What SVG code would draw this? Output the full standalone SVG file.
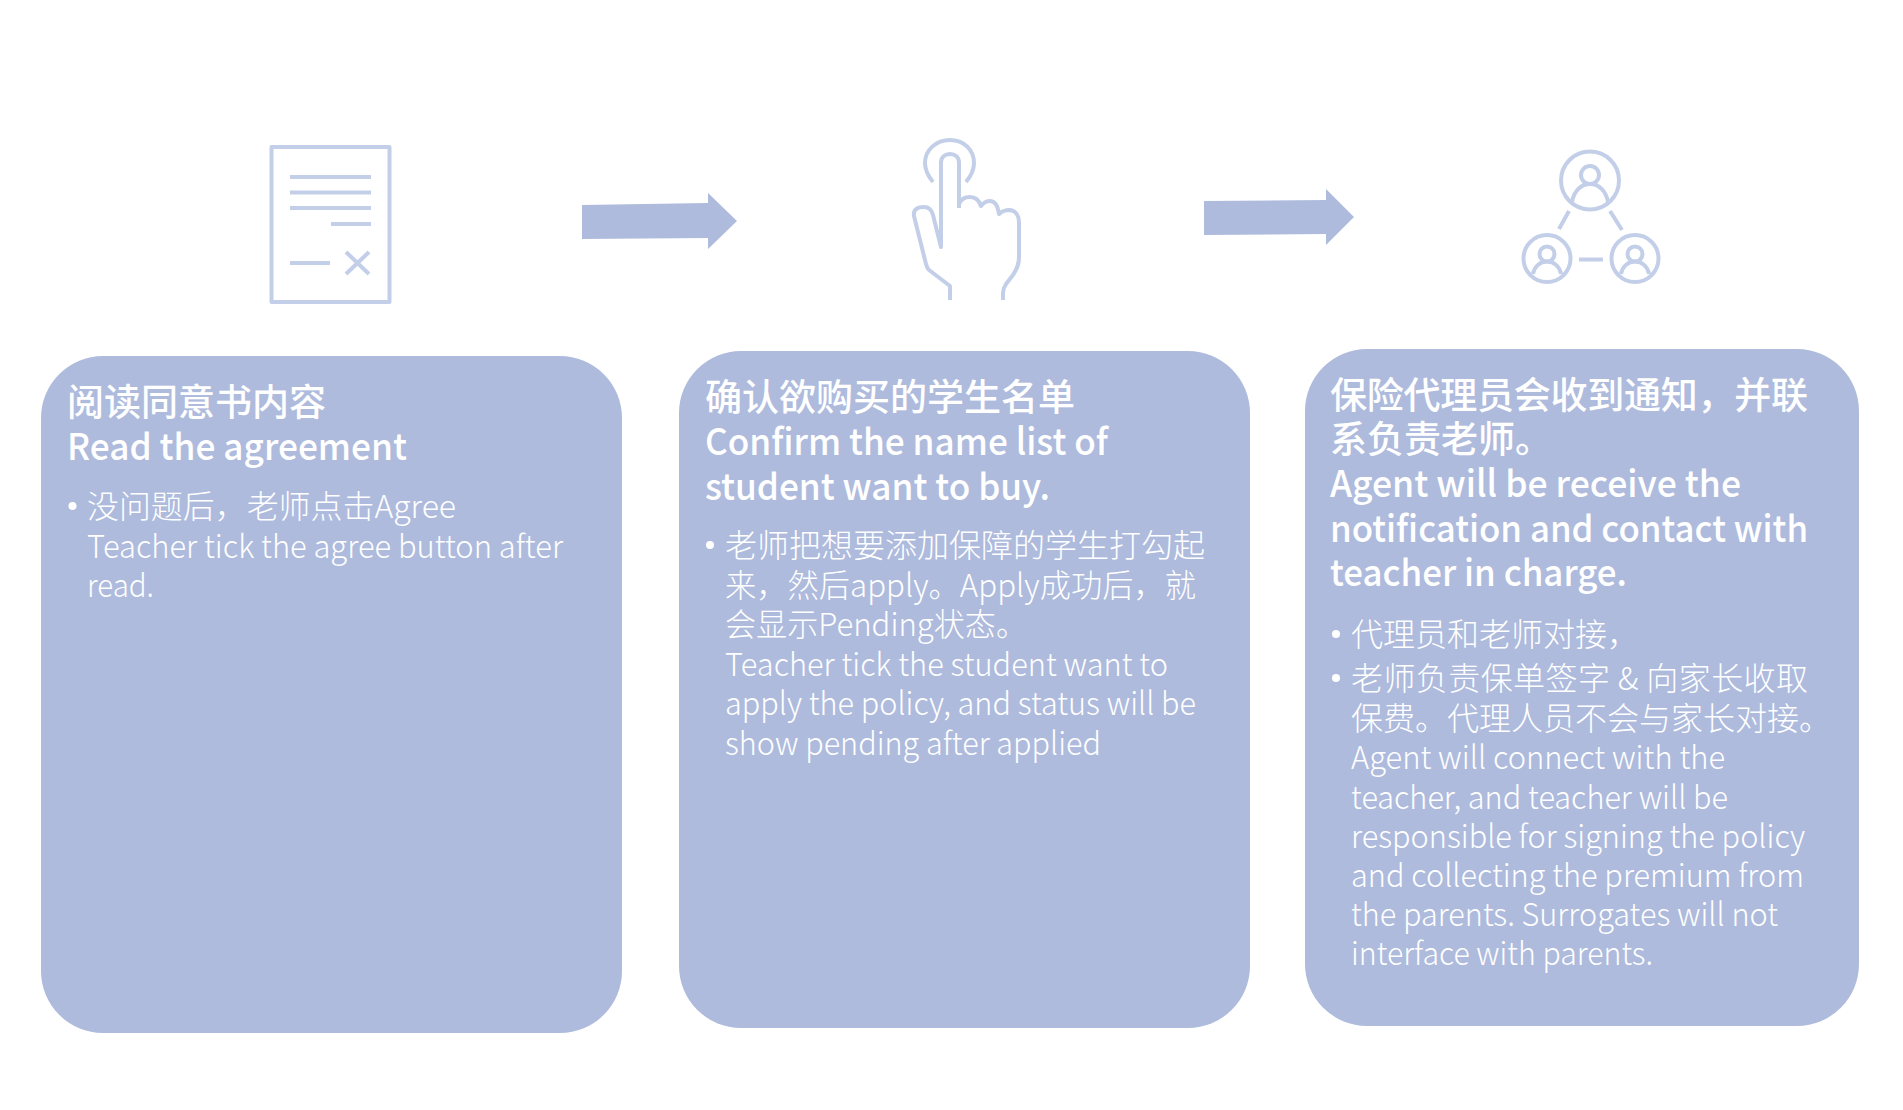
<svg xmlns="http://www.w3.org/2000/svg" width="1903" height="1110" viewBox="0 0 1903 1110">
<style>
.card{fill:#aebbdd}
.arrow{fill:#aebbdd}
.ic{fill:none;stroke:#c3cfe8;stroke-width:4;stroke-linecap:butt;stroke-linejoin:round}
.dot{fill:#fff}
text{fill:#fff;font-family:"Noto Sans CJK SC","Noto Sans",sans-serif}
.t{font-size:37px;font-weight:500}
.b{font-size:32px;font-weight:300}
</style>
<rect width="1903" height="1110" fill="#fff"/>
<g id="connectors">
<path class="arrow" d="M582 205L708 203V193L737 221L708 249V238L582 239Z"/>
<path class="arrow" d="M1204 201L1326 200V189L1354 217L1326 245V234L1204 235Z"/>
</g>
<g id="icon-document" class="ic">
<rect x="271.500" y="147" width="118" height="155"/>
<path d="M290 177H371M290 192.500H371M290 208H371M331 224H371M290 263H330M346 252L369 274M369 252L346 274"/>
</g>
<g id="icon-hand" class="ic">
<path d="M933 182C928 176 925 171 925 163C925 150 936 140 950 140C964 140 974 150 974 163C974 171 971 176 966 182"/>
<path d="M950 300V286L929 270Q927 268 926 264L914 216C913 209 918 207 924 207C930 207 932 211 933 215L941 247V163C941 157 945 154 950 154C955 154 959 157 959 163V208"/>
<path d="M959 204C961 199 965 197 970 197C975 197 979 200 981 206C984 202 987 201 990 201C995 201 998 207 999 214C1002 211 1006 210 1010 210C1016 211 1019 216 1019 222V257C1019 266 1016 270 1013 275L1006 284C1004 287 1003 290 1003 293V300"/>
</g>
<g id="icon-people" class="ic">
<circle cx="1590" cy="180.500" r="29"/>
<circle cx="1590" cy="175" r="9"/>
<path d="M1572 202C1574 191 1581 184 1590 184C1599 184 1606 191 1608 202"/>
<circle cx="1547" cy="258.500" r="23.500"/>
<circle cx="1547" cy="254" r="7.500"/>
<path d="M1533 274C1534 267 1540 261.500 1547 261.500C1554 261.500 1560 267 1561 274"/>
<circle cx="1635" cy="258.500" r="23.500"/>
<circle cx="1635" cy="254" r="7.500"/>
<path d="M1621 274C1622 267 1628 261.500 1635 261.500C1642 261.500 1648 267 1649 274"/>
<path d="M1569 211L1559 229M1610 211L1622 230M1579 259.500H1603"/>
</g>
<g id="card-1">
<rect class="card" x="41" y="356" width="581" height="677" rx="62"/>
<text class="t" x="67" y="416">阅读同意书内容</text>
<text class="t" x="67" y="460" textLength="340" lengthAdjust="spacingAndGlyphs">Read the agreement</text>
<circle class="dot" cx="72.500" cy="506" r="4"/>
<text class="b" x="87" y="518" textLength="369" lengthAdjust="spacingAndGlyphs">没问题后，老师点击Agree</text>
<text class="b" x="87" y="558" textLength="476" lengthAdjust="spacingAndGlyphs">Teacher tick the agree button after</text>
<text class="b" x="87" y="597" textLength="67" lengthAdjust="spacingAndGlyphs">read.</text>
</g>
<g id="card-2">
<rect class="card" x="679" y="351" width="571" height="677" rx="62"/>
<text class="t" x="705" y="411">确认欲购买的学生名单</text>
<text class="t" x="705" y="455" textLength="403" lengthAdjust="spacingAndGlyphs">Confirm the name list of</text>
<text class="t" x="705" y="500" textLength="345" lengthAdjust="spacingAndGlyphs">student want to buy.</text>
<circle class="dot" cx="710" cy="545" r="4"/>
<text class="b" x="725" y="557">老师把想要添加保障的学生打勾起</text>
<text class="b" x="725" y="597" textLength="471" lengthAdjust="spacingAndGlyphs">来，然后apply。Apply成功后，就</text>
<text class="b" x="725" y="636" textLength="302" lengthAdjust="spacingAndGlyphs">会显示Pending状态。</text>
<text class="b" x="725" y="676" textLength="443" lengthAdjust="spacingAndGlyphs">Teacher tick the student want to</text>
<text class="b" x="725" y="715" textLength="471" lengthAdjust="spacingAndGlyphs">apply the policy, and status will be</text>
<text class="b" x="725" y="755" textLength="376" lengthAdjust="spacingAndGlyphs">show pending after applied</text>
</g>
<g id="card-3">
<rect class="card" x="1305" y="349" width="554" height="677" rx="62"/>
<text class="t" x="1330" y="409" textLength="478">保险代理员会收到通知，并联</text>
<text class="t" x="1330" y="453">系负责老师。</text>
<text class="t" x="1330" y="497" textLength="411" lengthAdjust="spacingAndGlyphs">Agent will be receive the</text>
<text class="t" x="1330" y="542" textLength="478" lengthAdjust="spacingAndGlyphs">notification and contact with</text>
<text class="t" x="1330" y="586" textLength="297" lengthAdjust="spacingAndGlyphs">teacher in charge.</text>
<circle class="dot" cx="1336" cy="634" r="4"/>
<text class="b" x="1351" y="646">代理员和老师对接，</text>
<circle class="dot" cx="1336" cy="678" r="4"/>
<text class="b" x="1351" y="690" textLength="457">老师负责保单签字 &amp; 向家长收取</text>
<text class="b" x="1351" y="730">保费。代理人员不会与家长对接。</text>
<text class="b" x="1351" y="769" textLength="374" lengthAdjust="spacingAndGlyphs">Agent will connect with the</text>
<text class="b" x="1351" y="809" textLength="377" lengthAdjust="spacingAndGlyphs">teacher, and teacher will be</text>
<text class="b" x="1351" y="848" textLength="454" lengthAdjust="spacingAndGlyphs">responsible for signing the policy</text>
<text class="b" x="1351" y="887" textLength="453" lengthAdjust="spacingAndGlyphs">and collecting the premium from</text>
<text class="b" x="1351" y="926" textLength="427" lengthAdjust="spacingAndGlyphs">the parents. Surrogates will not</text>
<text class="b" x="1351" y="965" textLength="302" lengthAdjust="spacingAndGlyphs">interface with parents.</text>
</g>
</svg>
